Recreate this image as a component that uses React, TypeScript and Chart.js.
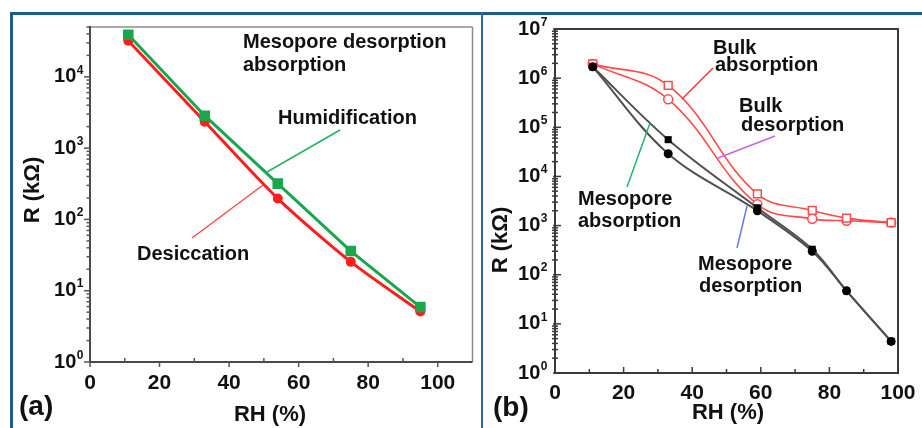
import React, { useEffect, useRef } from "react";
import { Chart, registerables } from "chart.js";
Chart.register(...registerables);

// ---------- data (panel a) ----------
const rhA = [11, 33, 54, 75, 95];
const humidificationA = [39000, 2850, 318, 36, 5.9];
const desiccationA = [32000, 2350, 196, 25.4, 5.1];

// ---------- data (panel b) ----------
const rhB = [11, 33, 59, 75, 85, 98];
const bulkAbsorptionB = [1950000, 710000, 4400, 2030, 1420, 1150];
const bulkDesorptionB = [1950000, 370000, 2700, 1370, 1250, 1150];
const mesoAbsorptionB = [1700000, 56000, 2300, 330, 47, 4.4];
const mesoDesorptionB = [1700000, 29000, 2000, 300, 47, 4.4];

// ---------- tick labels ----------
const xTickLabels = [0, 20, 40, 60, 80, 100];
const xMinorTicks = [10, 30, 50, 70, 90];
const yExpA = [0, 1, 2, 3, 4];
const yExpB = [0, 1, 2, 3, 4, 5, 6, 7];

const FONT = '"Liberation Sans", Arial, Helvetica, sans-serif';
const bf = (s: number) => `bold ${s}px ${FONT}`;
const TXT = "#111";

function pts(xs: number[], ys: number[]) {
  return xs.map((x, i) => ({ x, y: ys[i] }));
}

function seg(ctx: CanvasRenderingContext2D, x1: number, y1: number, x2: number, y2: number) {
  ctx.beginPath();
  ctx.moveTo(x1, y1);
  ctx.lineTo(x2, y2);
  ctx.stroke();
}

function drawPow(ctx: CanvasRenderingContext2D, exp: number, rightX: number, cy: number, base: number, sup: number) {
  ctx.fillStyle = TXT;
  ctx.textAlign = "left";
  ctx.textBaseline = "middle";
  ctx.font = bf(base);
  const wb = ctx.measureText("10").width;
  ctx.font = bf(sup);
  const ws = ctx.measureText(String(exp)).width;
  const left = rightX - wb - ws;
  ctx.font = bf(base);
  ctx.fillText("10", left, cy);
  ctx.font = bf(sup);
  ctx.fillText(String(exp), left + wb + 0.5, cy - base * 0.33);
}

function text(ctx: CanvasRenderingContext2D, s: string, x: number, y: number, size: number, align: CanvasTextAlign = "left", baseline: CanvasTextBaseline = "alphabetic") {
  ctx.fillStyle = TXT;
  ctx.font = bf(size);
  ctx.textAlign = align;
  ctx.textBaseline = baseline;
  ctx.fillText(s, x, y);
}

function vtext(ctx: CanvasRenderingContext2D, s: string, cx: number, cy: number, size: number) {
  ctx.save();
  ctx.translate(cx, cy);
  ctx.rotate(-Math.PI / 2);
  text(ctx, s, 0, 0, size, "center", "middle");
  ctx.restore();
}

// ---------- panel a plugin ----------
const panelAPlugin = {
  id: "panelA",
  beforeDatasetsDraw(chart: any) {
    const { ctx, chartArea: a, scales } = chart;
    const xs = scales.x, ys = scales.y;
    ctx.save();
    ctx.lineCap = "butt";
    ctx.strokeStyle = "#8c8c8c";
    ctx.lineWidth = 1.5;
    seg(ctx, a.left, a.top, a.right, a.top);
    seg(ctx, a.right, a.top, a.right, a.bottom);
    ctx.strokeStyle = "#4a4a4a";
    ctx.lineWidth = 2;
    seg(ctx, a.left, a.top - 1, a.left, a.bottom + 1);
    seg(ctx, a.left - 1, a.bottom, a.right, a.bottom);
    // y ticks
    ctx.lineWidth = 1.5;
    ctx.strokeStyle = "#555";
    for (const e of yExpA) {
      const y = ys.getPixelForValue(Math.pow(10, e));
      seg(ctx, a.left - 6, y, a.left, y);
      for (let k = 2; k <= 9; k++) {
        const v = k * Math.pow(10, e);
        if (v > ys.max) break;
        const yy = ys.getPixelForValue(v);
        seg(ctx, a.left - 3.5, yy, a.left, yy);
      }
    }
    // x ticks
    for (const v of xTickLabels) {
      const x = xs.getPixelForValue(v);
      seg(ctx, x, a.bottom, x, a.bottom + 5);
    }
    for (const v of xMinorTicks) {
      const x = xs.getPixelForValue(v);
      seg(ctx, x, a.bottom, x, a.bottom - 4);
    }
    ctx.restore();
  },
  afterDraw(chart: any) {
    const { ctx, chartArea: a, scales } = chart;
    const xs = scales.x, ys = scales.y;
    ctx.save();
    for (const e of yExpA) {
      drawPow(ctx, e, a.left - 7, ys.getPixelForValue(Math.pow(10, e)), 20, 12);
    }
    for (const v of xTickLabels) {
      text(ctx, String(v), xs.getPixelForValue(v), a.bottom + 21, 21, "center", "middle");
    }
    text(ctx, "RH (%)", 270, 415, 22, "center", "middle");
    vtext(ctx, "R (kΩ)", 33, 190, 22);
    text(ctx, "(a)", 19, 407, 28, "left", "middle");
    // annotations
    text(ctx, "Mesopore desorption", 243, 48, 20);
    text(ctx, "absorption", 243, 71, 20);
    text(ctx, "Humidification", 278, 124, 20);
    text(ctx, "Desiccation", 137, 260, 20);
    ctx.lineWidth = 1.5;
    ctx.strokeStyle = "#22b35e";
    seg(ctx, 340, 130, 267, 172);
    ctx.strokeStyle = "#ff4a4a";
    seg(ctx, 263, 185, 192, 238);
    ctx.restore();
  },
};

// ---------- panel b plugin (canvas offset 483) ----------
const OFFB = 483;
const panelBPlugin = {
  id: "panelB",
  beforeDatasetsDraw(chart: any) {
    const { ctx, chartArea: a, scales } = chart;
    const xs = scales.x, ys = scales.y;
    ctx.save();
    ctx.strokeStyle = "#3a3a3a";
    ctx.lineWidth = 2;
    ctx.strokeRect(a.left, a.top, a.right - a.left, a.bottom - a.top);
    ctx.lineWidth = 1.5;
    for (const e of yExpB) {
      const y = ys.getPixelForValue(Math.pow(10, e));
      seg(ctx, a.left - 2, y, a.left + 6, y);
      if (e === yExpB[yExpB.length - 1]) break;
      for (let k = 2; k <= 9; k++) {
        const yy = ys.getPixelForValue(k * Math.pow(10, e));
        seg(ctx, a.left - 3, yy, a.left + 3, yy);
      }
    }
    for (const v of xTickLabels) {
      const x = xs.getPixelForValue(v);
      seg(ctx, x, a.bottom, x, a.bottom - 6);
    }
    for (const v of xMinorTicks) {
      const x = xs.getPixelForValue(v);
      seg(ctx, x, a.bottom, x, a.bottom - 4);
    }
    ctx.restore();
  },
  afterDraw(chart: any) {
    const { ctx, chartArea: a, scales } = chart;
    const xs = scales.x, ys = scales.y;
    ctx.save();
    for (const e of yExpB) {
      drawPow(ctx, e, a.left - 8, ys.getPixelForValue(Math.pow(10, e)), 20, 12);
    }
    for (const v of xTickLabels) {
      text(ctx, String(v), xs.getPixelForValue(v), a.bottom + 20, 21, "center", "middle");
    }
    text(ctx, "RH (%)", 728 - OFFB, 413, 22, "center", "middle");
    vtext(ctx, "R (kΩ)", 501 - OFFB, 240, 22);
    text(ctx, "(b)", 493 - OFFB, 408, 28, "left", "middle");
    text(ctx, "Bulk", 713 - OFFB, 54, 20);
    text(ctx, "absorption", 715 - OFFB, 71, 20);
    text(ctx, "Bulk", 739 - OFFB, 112, 20);
    text(ctx, "desorption", 741 - OFFB, 131, 20);
    text(ctx, "Mesopore", 578 - OFFB, 205, 20);
    text(ctx, "absorption", 578 - OFFB, 227, 20);
    text(ctx, "Mesopore", 698 - OFFB, 270, 20);
    text(ctx, "desorption", 699 - OFFB, 292, 20);
    ctx.lineWidth = 1.5;
    ctx.strokeStyle = "#ff3030";
    seg(ctx, 713 - OFFB, 68, 682 - OFFB, 99);
    ctx.strokeStyle = "#c368d8";
    seg(ctx, 775 - OFFB, 136, 718 - OFFB, 158);
    ctx.strokeStyle = "#1fb56a";
    seg(ctx, 650 - OFFB, 123, 627 - OFFB, 187);
    ctx.strokeStyle = "#6a78e6";
    seg(ctx, 747 - OFFB, 206, 737 - OFFB, 248);
    ctx.restore();
  },
};

function hiddenScale(extra: any) {
  return {
    display: true,
    ticks: { display: false },
    grid: { display: false, drawTicks: false },
    border: { display: false },
    title: { display: false },
    ...extra,
  };
}

export default function App() {
  const refA = useRef<HTMLCanvasElement>(null);
  const refB = useRef<HTMLCanvasElement>(null);

  useEffect(() => {
    const chartA = new Chart(refA.current as HTMLCanvasElement, {
      type: "line",
      data: {
        datasets: [
          {
            label: "Humidification",
            data: pts(rhA, humidificationA),
            borderColor: "#19a64c",
            backgroundColor: "#19a64c",
            borderWidth: 3,
            pointStyle: "rect",
            pointRadius: 7.5,
            pointBorderWidth: 0,
            tension: 0,
          },
          {
            label: "Desiccation",
            data: pts(rhA, desiccationA),
            borderColor: "#ff1e1e",
            backgroundColor: "#ff1e1e",
            borderWidth: 3,
            pointStyle: "circle",
            pointRadius: 5,
            pointBorderWidth: 0,
            tension: 0.25,
          },
        ],
      },
      options: {
        responsive: false,
        animation: false,
        events: [],
        layout: { padding: { left: 0, top: 27, right: 3, bottom: 0 } },
        plugins: { legend: { display: false }, tooltip: { enabled: false } },
        scales: {
          x: hiddenScale({ type: "linear", min: 0, max: 110, afterFit: (s: any) => { s.height = 66; } }),
          y: hiddenScale({ type: "logarithmic", min: 1, max: 50000, afterFit: (s: any) => { s.width = 90; } }),
        },
      } as any,
      plugins: [panelAPlugin as any],
    });

    const chartB = new Chart(refB.current as HTMLCanvasElement, {
      type: "line",
      data: {
        datasets: [
          {
            label: "Mesopore absorption",
            data: pts(rhB, mesoAbsorptionB),
            borderColor: "#505050",
            backgroundColor: "#000",
            borderWidth: 2,
            pointStyle: "rect",
            pointRadius: 5,
            pointBorderWidth: 0,
            tension: 0.35,
          },
          {
            label: "Mesopore desorption",
            data: pts(rhB, mesoDesorptionB),
            borderColor: "#505050",
            backgroundColor: "#000",
            borderWidth: 2,
            pointStyle: "circle",
            pointRadius: 4.5,
            pointBorderWidth: 0,
            tension: 0.35,
          },
          {
            label: "Bulk absorption",
            data: pts(rhB, bulkAbsorptionB),
            borderColor: "#ff4a4a",
            backgroundColor: "#ffffff",
            pointBorderColor: "#ff4a4a",
            borderWidth: 1.6,
            pointStyle: "rect",
            pointRadius: 5.5,
            pointBorderWidth: 1.5,
            tension: 0.4,
          },
          {
            label: "Bulk desorption",
            data: pts(rhB, bulkDesorptionB),
            borderColor: "#ff4a4a",
            backgroundColor: "#ffffff",
            pointBorderColor: "#ff4a4a",
            borderWidth: 1.6,
            pointStyle: "circle",
            pointRadius: 4.5,
            pointBorderWidth: 1.5,
            tension: 0.4,
          },
        ],
      },
      options: {
        responsive: false,
        animation: false,
        events: [],
        layout: { padding: { left: 0, top: 29, right: 24, bottom: 0 } },
        plugins: { legend: { display: false }, tooltip: { enabled: false } },
        scales: {
          x: hiddenScale({ type: "linear", min: 0, max: 100, afterFit: (s: any) => { s.height = 55; } }),
          y: hiddenScale({ type: "logarithmic", min: 1, max: 10000000, afterFit: (s: any) => { s.width = 72; } }),
        },
      } as any,
      plugins: [panelBPlugin as any],
    });

    return () => {
      chartA.destroy();
      chartB.destroy();
    };
  }, []);

  const blue = "#1d5b90";
  return (
    <div style={{ position: "fixed", left: 0, top: 0, width: 922, height: 428, background: "#ffffff", overflow: "hidden" }}>
      <canvas ref={refA} width={480} height={428} style={{ position: "absolute", left: 0, top: 0, width: 480, height: 428 }} />
      <canvas ref={refB} width={439} height={428} style={{ position: "absolute", left: OFFB, top: 0, width: 439, height: 428 }} />
      <div style={{ position: "absolute", left: 10, top: 12, width: 912, height: 3, background: blue }} />
      <div style={{ position: "absolute", left: 10, top: 12, width: 3, height: 416, background: blue }} />
      <div style={{ position: "absolute", left: 481, top: 12, width: 2, height: 416, background: "#2a68a4" }} />
    </div>
  );
}
